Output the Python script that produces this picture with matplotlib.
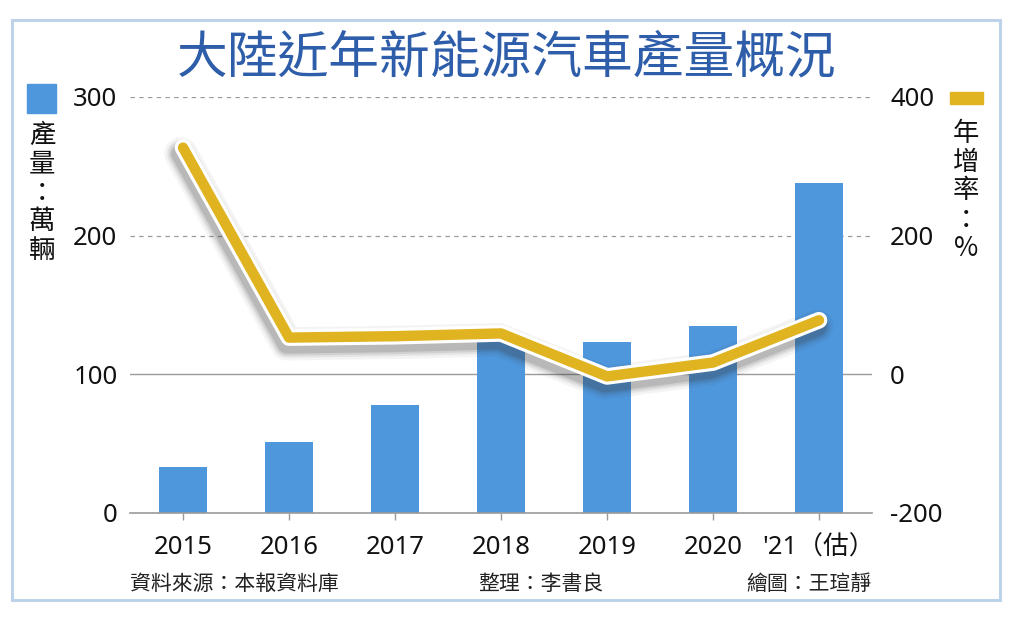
import matplotlib
matplotlib.use("Agg")
import matplotlib.pyplot as plt
import matplotlib.patheffects as pe
from matplotlib.patches import Rectangle

plt.rcParams['font.family'] = ['Noto Sans CJK TC', 'DejaVu Sans']
plt.rcParams['axes.unicode_minus'] = False

categories = ["2015", "2016", "2017", "2018", "2019", "2020", "'21（估）"]
production = [33, 51, 78, 125, 123, 135, 238]          # 萬輛
growth = [327, 53, 55, 59, -3, 17, 78]                 # 年增率 %
left_ticks = [0, 100, 200, 300]
right_ticks = [-200, 0, 200, 400]

title = "大陸近年新能源汽車產量概況"
left_label = "產量：萬輛"
right_label = "年增率：%"
footer_source = "資料來源：本報資料庫"
footer_editor = "整理：李書良"
footer_artist = "繪圖：王瑄靜"

BAR_C = "#4E97DC"
LINE_C = "#E0B320"
TITLE_C = "#2E5DAA"
GRID_C = "#9A9A9A"
NUM_FONT = ['Noto Sans', 'Noto Sans CJK TC']

W, H = 1024, 631
fig = plt.figure(figsize=(W / 100, H / 100), dpi=100)
fig.patch.set_facecolor("white")

def fx(px):
    return px / W

def fy(py):
    return 1 - py / H

# frame
fig.patches.append(Rectangle((fx(12), fy(600)), fx(1000) - fx(12), fy(20) - fy(600),
                             transform=fig.transFigure, fill=False,
                             edgecolor="#BCD3EA", linewidth=2.2))

ax = fig.add_axes([fx(130), fy(513), fx(872) - fx(130), fy(97) - fy(513)])
ax2 = ax.twinx()
ax.set_zorder(1)
ax2.set_zorder(2)
ax.patch.set_visible(False)
ax2.patch.set_visible(False)

x = list(range(len(categories)))
ax.bar(x, production, width=0.46, color=BAR_C, zorder=2)
ax.set_xlim(-0.5, len(categories) - 0.5)
ax.set_ylim(0, 300)
ax.set_yticks(left_ticks)
ax.set_xticks(x)
ax.set_xticklabels(categories, fontsize=18.5, family=NUM_FONT, color="#111111")
ax.tick_params(axis='x', length=5, width=1, color=GRID_C, pad=11)
ax.tick_params(axis='y', length=0, pad=9, labelsize=18.5, labelcolor="#111111")
for lab in ax.get_yticklabels():
    lab.set_family(NUM_FONT)

for t in [200, 300]:
    ax.axhline(t, color=GRID_C, linestyle=(0, (3.5, 3.5)), linewidth=0.9, zorder=0)
ax.axhline(100, color=GRID_C, linewidth=1.0, zorder=0)

for s in ["top", "left", "right"]:
    ax.spines[s].set_visible(False)
ax.spines["bottom"].set_color(GRID_C)
ax.spines["bottom"].set_linewidth(1.2)

ax2.set_ylim(-200, 400)
ax2.set_yticks(right_ticks)
ax2.tick_params(axis='y', length=0, pad=13, labelsize=18.5, labelcolor="#111111")
for lab in ax2.get_yticklabels():
    lab.set_family(NUM_FONT)
for s in ["top", "left", "right", "bottom"]:
    ax2.spines[s].set_visible(False)

shadow_fx = []
for lw, a in [(24, 0.05), (20, 0.08), (17, 0.11), (14, 0.15)]:
    shadow_fx.append(pe.SimpleLineShadow(offset=(-1.5, -4.5), shadow_color="#333333",
                                         alpha=a, linewidth=lw))
ax2.plot(x, growth, color=LINE_C, linewidth=7.5, solid_joinstyle='round',
         solid_capstyle='round', zorder=3,
         path_effects=shadow_fx + [pe.Stroke(linewidth=12, foreground="white"),
                                   pe.Normal()])

# title
fig.text(fx(507), fy(58), title, fontsize=36.5, color=TITLE_C,
         ha='center', va='center', fontweight='medium')

# legend markers
fig.patches.append(Rectangle((fx(27), fy(113)), fx(56) - fx(27), fy(84) - fy(113),
                             transform=fig.transFigure, color=BAR_C))
fig.patches.append(Rectangle((fx(950), fy(104)), fx(983) - fx(950), fy(92) - fy(104),
                             transform=fig.transFigure, color=LINE_C))

# vertical axis labels
fig.text(fx(42), fy(122), "\n".join(left_label), fontsize=19, ha='center', va='top',
         linespacing=1.08, color="#111111")
fig.text(fx(966), fy(120), "\n".join(right_label), fontsize=19, ha='center', va='top',
         linespacing=1.08, color="#111111")

# footer
fig.text(fx(130), fy(584), footer_source, fontsize=15, ha='left', va='center', color="#222222")
fig.text(fx(478), fy(584), footer_editor, fontsize=15, ha='left', va='center', color="#222222")
fig.text(fx(872), fy(584), footer_artist, fontsize=15, ha='right', va='center', color="#222222")

fig.savefig("out.png", dpi=100, facecolor="white")
